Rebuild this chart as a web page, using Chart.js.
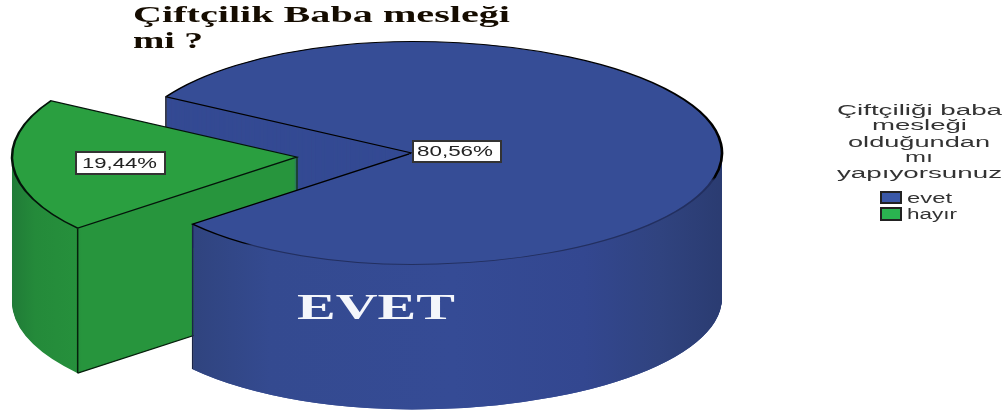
<!DOCTYPE html>
<html>
<head>
<meta charset="utf-8">
<title>Çiftçilik Baba mesleği mi ?</title>
<script src="https://cdn.jsdelivr.net/npm/chart.js@4"></script>
<style>
    html, body { margin: 0; padding: 0; background: #fff; }
    #wrap { width: 1008px; height: 414px; }
</style>
</head>
<body>
<div id="wrap"><canvas id="myChart" width="1008" height="414"></canvas></div>
<script>
// data
const categories = ['evet', 'hayır'];
const percentages = [80.56, 19.44];
const valueLabels = ['80,56%', '19,44%'];
const titleLines = ['Çiftçilik Baba mesleği', 'mi ?'];
const legendLines = ['Çiftçiliği baba', 'mesleği', 'olduğundan', 'mı', 'yapıyorsunuz'];
const sliceColors = ['#364d96', '#2a9f40'];
const legendColors = ['#3a58a8', '#2ab350'];

// look of the fake 3d pie
const tilt = 0.391;
const depth = 145;
const rightStretch = 310 / 285;
const exploded = [{ x: 0, y: 0 }, { x: -115, y: 4 }];

function sliceOptions(fill, stroke, width) {
    return {
        backgroundColor: fill, borderColor: stroke, borderWidth: width,
        borderAlign: 'center', borderRadius: 0, borderDash: [], borderDashOffset: 0,
        borderJoinStyle: 'miter', offset: 0, spacing: 0, circular: true
    };
}

// draw one arc element through the tilt, dropped by drop pixels
function paintArc(ctx, arc, index, drop, fill, stroke, width) {
    const once = function (sx) {
        const saved = arc.options;
        ctx.save();
        ctx.translate(arc.x + exploded[index].x, arc.y + exploded[index].y + drop);
        ctx.scale(sx, tilt);
        ctx.translate(-arc.x, -arc.y);
        arc.options = sliceOptions(fill, stroke, width);
        arc.draw(ctx);
        arc.options = saved;
        ctx.restore();
    };
    if (index !== 0) {
        once(1);
        return;
    }
    // the reference pie is wider on its right hand side
    ctx.save();
    ctx.beginPath();
    ctx.rect(0, 0, arc.x, 414);
    ctx.clip();
    once(1);
    ctx.restore();
    ctx.save();
    ctx.beginPath();
    ctx.rect(arc.x, 0, 1008 - arc.x, 414);
    ctx.clip();
    once(rightStretch);
    ctx.restore();
}

function wallGradient(ctx, stops) {
    const g = ctx.createLinearGradient(0, 0, 1008, 0);
    stops.forEach(function (s) { g.addColorStop(s[0] / 1008, s[1]); });
    return g;
}

function corner(arc, index, angle) {
    return {
        x: arc.x + exploded[index].x + Math.cos(angle) * arc.outerRadius,
        y: arc.y + exploded[index].y + Math.sin(angle) * arc.outerRadius * tilt
    };
}

function line(ctx, a, b, color, width) {
    ctx.save();
    ctx.strokeStyle = color;
    ctx.lineWidth = width;
    ctx.beginPath();
    ctx.moveTo(a.x, a.y);
    ctx.lineTo(b.x, b.y);
    ctx.stroke();
    ctx.restore();
}

function fitText(ctx, text, left, right, baseline, font, color) {
    ctx.save();
    ctx.font = font;
    ctx.fillStyle = color;
    ctx.textAlign = 'left';
    ctx.textBaseline = 'alphabetic';
    const w = ctx.measureText(text).width;
    ctx.translate(left, baseline);
    ctx.scale((right - left) / w, 1);
    ctx.fillText(text, 0, 0);
    ctx.restore();
}

const pie3d = {
    id: 'pie3d',
    beforeDatasetsDraw(chart) {
        const ctx = chart.ctx;
        const arcs = chart.getDatasetMeta(0).data;
        const blue = arcs[0];
        const green = arcs[1];
        const apex = { x: blue.x, y: blue.y };
        const blueA = corner(blue, 0, blue.startAngle);
        const blueB = corner(blue, 0, blue.endAngle);
        const greenApex = { x: green.x + exploded[1].x, y: green.y + exploded[1].y };
        const greenA = corner(green, 1, green.startAngle);
        const greenB = corner(green, 1, green.endAngle);
        const lower = blueA.y > blueB.y ? blueA : blueB;
        const upper = blueA.y > blueB.y ? blueB : blueA;
        const gLow = greenA.y > greenB.y ? greenA : greenB;

        // cut wall of the big slice, it goes behind the green one
        for (let d = depth; d > 0; d--) {
            paintArc(ctx, blue, 0, d, '#344a93', '#344a93', 0);
        }
        line(ctx, upper, { x: upper.x, y: upper.y + depth }, '#0a0f25', 1.5);

        // green slice walls, pre-space x is device x + 115
        const greenWall = wallGradient(ctx, [
            [115 + 10, '#207a37'], [115 + 35, '#248a3a'], [115 + 78, '#26903c'],
            [115 + 82, '#27953d'], [115 + 300, '#27953d']
        ]);
        for (let d = depth; d > 0; d--) {
            paintArc(ctx, green, 1, d, greenWall, greenWall, 0);
        }
        line(ctx, gLow, { x: gLow.x, y: gLow.y + depth }, '#06200c', 1.5);
        line(ctx, { x: gLow.x, y: gLow.y + depth },
            { x: greenApex.x, y: greenApex.y + depth }, '#06200c', 1.3);
        line(ctx, greenApex, { x: greenApex.x, y: greenApex.y + depth }, '#143d1c', 1.5);

        // front wall of the big slice, in front of the green walls
        const blueWall = wallGradient(ctx, [
            [195, '#30447f'], [270, '#344a90'], [450, '#354b95'], [570, '#334790'],
            [640, '#30437f'], [702, '#2a3b70']
        ]);
        ctx.save();
        ctx.beginPath();
        ctx.moveTo(apex.x, apex.y);
        ctx.lineTo(lower.x, lower.y);
        ctx.lineTo(lower.x, 414);
        ctx.lineTo(1008, 414);
        ctx.lineTo(1008, 0);
        ctx.lineTo(apex.x, 0);
        ctx.closePath();
        ctx.clip();
        for (let d = depth; d > 0; d--) {
            paintArc(ctx, blue, 0, d, blueWall, blueWall, 0);
        }
        ctx.restore();
        line(ctx, lower, { x: lower.x, y: lower.y + depth }, '#1a2448', 1.5);

        // top faces, thin blue rim along the front of the big slice
        const rim = ctx.createConicGradient(0, blue.x, blue.y);
        rim.addColorStop(0, '#000');
        rim.addColorStop(0.035, '#000');
        rim.addColorStop(0.04, '#222f60');
        rim.addColorStop(0.345, '#222f60');
        rim.addColorStop(0.35, '#000');
        rim.addColorStop(1, '#000');
        paintArc(ctx, blue, 0, 0, sliceColors[0], rim, 2.5);
        paintArc(ctx, green, 1, 0, sliceColors[1], '#04140a', 2.5);

        return false;
    },
    afterDraw(chart) {
        const ctx = chart.ctx;
        const font = '"Liberation Sans", sans-serif';
        const serif = '"Liberation Serif", serif';

        fitText(ctx, titleLines[0], 133, 510, 22, 'bold 24px ' + serif, '#150c00');
        fitText(ctx, titleLines[1], 133, 203, 48, 'bold 24px ' + serif, '#150c00');

        // value labels
        const boxes = [[413, 141, 88, 21, 417, 493, 156], [76, 152, 89, 22, 82, 157, 168]];
        valueLabels.forEach(function (label, i) {
            const b = boxes[i];
            ctx.fillStyle = '#fff';
            ctx.fillRect(b[0], b[1], b[2], b[3]);
            ctx.strokeStyle = '#333';
            ctx.lineWidth = 2;
            ctx.strokeRect(b[0], b[1], b[2], b[3]);
            fitText(ctx, label, b[4], b[5], b[6], '14.5px ' + font, '#222');
        });

        fitText(ctx, 'EVET', 297, 455, 319, 'bold 36px ' + serif, '#f4f6fb');

        // legend
        const legendX = [[837, 1002, 115], [872, 967, 130], [848, 990, 147], [905, 933, 162], [837, 1002, 178]];
        legendLines.forEach(function (text, i) {
            fitText(ctx, text, legendX[i][0], legendX[i][1], legendX[i][2], '14px ' + font, '#333');
        });
        const legendRows = [[192, 11, 907, 952, 203], [208, 12, 907, 957, 219]];
        categories.forEach(function (name, i) {
            const r = legendRows[i];
            ctx.fillStyle = legendColors[i];
            ctx.fillRect(881, r[0], 20, r[1]);
            ctx.strokeStyle = '#222';
            ctx.lineWidth = 2;
            ctx.strokeRect(881, r[0], 20, r[1]);
            fitText(ctx, name, r[2], r[3], r[4], '14px ' + font, '#333');
        });
    }
};

let ctx = document.getElementById('myChart');
new Chart(ctx, {
    type: 'pie',
    data: {
        labels: categories,
        datasets: [{
            data: percentages,
            backgroundColor: sliceColors,
            radius: 285
        }]
    },
    options: {
        responsive: false,
        animation: false,
        rotation: 300.3,
        layout: { padding: { left: 0, right: 184, top: 0, bottom: 108 } },
        plugins: {
            legend: { display: false },
            title: { display: false },
            tooltip: { enabled: false }
        }
    },
    plugins: [pie3d]
});
</script>
</body>
</html>
